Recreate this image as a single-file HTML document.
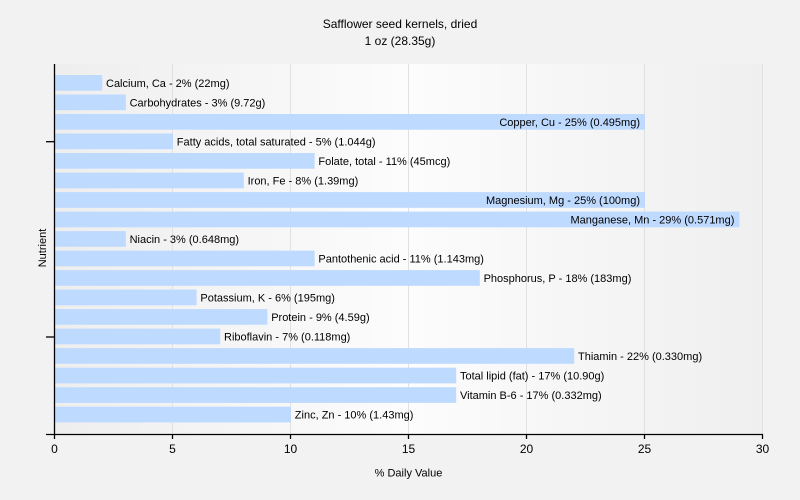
<!DOCTYPE html>
<html>
<head>
<meta charset="utf-8">
<style>
  html, body { margin:0; padding:0; background:#f2f2f2; }
  svg { display:block; font-family:"Liberation Sans", Arial, sans-serif; }
</style>
</head>
<body>
<svg width="800" height="500" viewBox="0 0 800 500" xmlns="http://www.w3.org/2000/svg">
  <defs>
    <linearGradient id="pbg" x1="0" y1="0" x2="1" y2="0">
      <stop offset="0" stop-color="#eeeeee"/>
      <stop offset="0.5" stop-color="#fcfcfc"/>
      <stop offset="1" stop-color="#efefef"/>
    </linearGradient>
  </defs>
  <rect x="0" y="0" width="800" height="500" fill="#f2f2f2"/>
  <rect x="54" y="64" width="708.5" height="370" fill="url(#pbg)"/>

  <!-- gridlines -->
  <g stroke="#e1e1e1" stroke-width="1">
    <line x1="172.5" y1="64" x2="172.5" y2="434"/>
    <line x1="290.5" y1="64" x2="290.5" y2="434"/>
    <line x1="408.5" y1="64" x2="408.5" y2="434"/>
    <line x1="526.5" y1="64" x2="526.5" y2="434"/>
    <line x1="644.5" y1="64" x2="644.5" y2="434"/>
    <line x1="762.5" y1="64" x2="762.5" y2="434"/>
  </g>

  <!-- bars -->
  <g fill="#bfdaff">
    <rect x="55" y="75.0" width="47.2" height="15.7"/>
    <rect x="55" y="94.5" width="70.8" height="15.7"/>
    <rect x="55" y="114.0" width="590.0" height="15.7"/>
    <rect x="55" y="133.5" width="118.0" height="15.7"/>
    <rect x="55" y="153.0" width="259.6" height="15.7"/>
    <rect x="55" y="172.6" width="188.8" height="15.7"/>
    <rect x="55" y="192.1" width="590.0" height="15.7"/>
    <rect x="55" y="211.6" width="684.4" height="15.7"/>
    <rect x="55" y="231.1" width="70.8" height="15.7"/>
    <rect x="55" y="250.6" width="259.6" height="15.7"/>
    <rect x="55" y="270.1" width="424.8" height="15.7"/>
    <rect x="55" y="289.6" width="141.6" height="15.7"/>
    <rect x="55" y="309.1" width="212.4" height="15.7"/>
    <rect x="55" y="328.6" width="165.2" height="15.7"/>
    <rect x="55" y="348.1" width="519.2" height="15.7"/>
    <rect x="55" y="367.7" width="401.2" height="15.7"/>
    <rect x="55" y="387.2" width="401.2" height="15.7"/>
    <rect x="55" y="406.7" width="236.0" height="15.7"/>
  </g>

  <!-- bar labels -->
  <g font-size="11" fill="#000">
    <text x="106" y="86.9">Calcium, Ca - 2% (22mg)</text>
    <text x="129.6" y="106.4">Carbohydrates - 3% (9.72g)</text>
    <text x="640" y="125.9" text-anchor="end">Copper, Cu - 25% (0.495mg)</text>
    <text x="176.8" y="145.4">Fatty acids, total saturated - 5% (1.044g)</text>
    <text x="318.4" y="164.9">Folate, total - 11% (45mcg)</text>
    <text x="247.6" y="184.5">Iron, Fe - 8% (1.39mg)</text>
    <text x="640" y="204.0" text-anchor="end">Magnesium, Mg - 25% (100mg)</text>
    <text x="734.4" y="223.5" text-anchor="end">Manganese, Mn - 29% (0.571mg)</text>
    <text x="129.6" y="243.0">Niacin - 3% (0.648mg)</text>
    <text x="318.4" y="262.5">Pantothenic acid - 11% (1.143mg)</text>
    <text x="483.6" y="282.0">Phosphorus, P - 18% (183mg)</text>
    <text x="200.4" y="301.5">Potassium, K - 6% (195mg)</text>
    <text x="271.2" y="321.0">Protein - 9% (4.59g)</text>
    <text x="224" y="340.5">Riboflavin - 7% (0.118mg)</text>
    <text x="578" y="360.0">Thiamin - 22% (0.330mg)</text>
    <text x="460" y="379.6">Total lipid (fat) - 17% (10.90g)</text>
    <text x="460" y="399.1">Vitamin B-6 - 17% (0.332mg)</text>
    <text x="294.8" y="418.6">Zinc, Zn - 10% (1.43mg)</text>
  </g>

  <!-- axes -->
  <g stroke="#000" stroke-width="1.3">
    <line x1="54.5" y1="64" x2="54.5" y2="434.5"/>
    <line x1="46" y1="434.5" x2="763" y2="434.5"/>
    <line x1="46" y1="141.7" x2="54.5" y2="141.7"/>
    <line x1="46" y1="337" x2="54.5" y2="337"/>
    <line x1="54.5" y1="434.5" x2="54.5" y2="439"/>
    <line x1="172.5" y1="434.5" x2="172.5" y2="439"/>
    <line x1="290.5" y1="434.5" x2="290.5" y2="439"/>
    <line x1="408.5" y1="434.5" x2="408.5" y2="439"/>
    <line x1="526.5" y1="434.5" x2="526.5" y2="439"/>
    <line x1="644.5" y1="434.5" x2="644.5" y2="439"/>
    <line x1="762.5" y1="434.5" x2="762.5" y2="439"/>
  </g>

  <!-- tick labels -->
  <g font-size="12" fill="#000" text-anchor="middle">
    <text x="54.5" y="453">0</text>
    <text x="172.5" y="453">5</text>
    <text x="290.5" y="453">10</text>
    <text x="408.5" y="453">15</text>
    <text x="526.5" y="453">20</text>
    <text x="644.5" y="453">25</text>
    <text x="762.5" y="453">30</text>
  </g>

  <!-- axis titles -->
  <text x="408.5" y="476.5" font-size="11" text-anchor="middle" fill="#000">% Daily Value</text>
  <text transform="translate(46,248) rotate(-90)" font-size="11" text-anchor="middle" fill="#000">Nutrient</text>

  <!-- chart title -->
  <text x="400" y="28" font-size="12" text-anchor="middle" fill="#000">Safflower seed kernels, dried</text>
  <text x="400" y="45" font-size="12" text-anchor="middle" fill="#000">1 oz (28.35g)</text>
</svg>
</body>
</html>
